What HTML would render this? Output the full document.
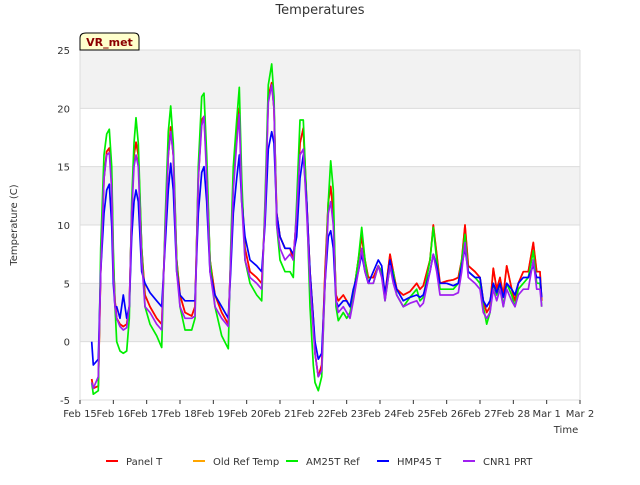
<!DOCTYPE html>
<html><head><meta charset="utf-8"><style>
body{margin:0;background:#fff;font-family:"Liberation Sans","DejaVu Sans",sans-serif}
svg text{font-family:"DejaVu Sans","Liberation Sans",sans-serif}
</style></head><body>
<svg id="chart" width="640" height="480" viewBox="0 0 640 480" xmlns="http://www.w3.org/2000/svg">
<rect width="640" height="480" fill="#fff"/>
<g id="plot"></g>
<text x="320" y="14" text-anchor="middle" font-size="13" fill="#333">Temperatures</text>
<text transform="translate(17,225) rotate(-90)" text-anchor="middle" font-size="10" fill="#333">Temperature (C)</text>
<text x="566" y="433" text-anchor="middle" font-size="10" fill="#333">Time</text>
<g>
<path d="M80,50 L80,38 Q80,33 86,33 L134,33 Q139,33 139,38 L139,50 Z" fill="#ffffcc" stroke="#000" stroke-width="1"/>
<text x="109.5" y="46" text-anchor="middle" font-size="11" font-weight="bold" fill="#8b0000">VR_met</text>
</g>
<g id="legend"></g>
</svg>
<script>
const times=[0.35,0.4,0.55,0.62,0.72,0.8,0.88,0.95,1.0,1.05,1.1,1.2,1.3,1.4,1.48,1.55,1.62,1.68,1.75,1.85,1.95,2.1,2.3,2.45,2.55,2.65,2.72,2.8,2.9,3.0,3.15,3.35,3.45,3.55,3.65,3.72,3.8,3.9,4.05,4.25,4.45,4.52,4.6,4.7,4.78,4.85,4.95,5.1,5.3,5.45,5.55,5.65,5.75,5.82,5.9,6.0,6.15,6.3,6.4,6.5,6.6,6.7,6.8,6.9,7.0,7.05,7.15,7.25,7.35,7.45,7.52,7.6,7.68,7.75,7.9,8.0,8.1,8.2,8.35,8.45,8.55,8.65,8.8,8.95,9.05,9.15,9.3,9.4,9.5,9.7,9.9,10.1,10.2,10.3,10.5,10.6,10.7,10.8,11.0,11.2,11.35,11.45,11.55,11.65,11.85,12.0,12.1,12.2,12.3,12.4,12.5,12.6,12.7,12.8,12.95,13.05,13.15,13.3,13.45,13.6,13.7,13.8,13.85];
const panelT=[-3.2,-4,-3.8,6,14,16.3,16.6,14,7,3.5,2,1.5,1.3,1.5,3,11,16,17.1,16,8,4,3,2,1.5,9,16,18.4,16,7,4,2.5,2.2,3,14,19,19.3,15,7,4,2.5,1.5,7,14,18,20,13,8,6,5.5,5,11,21,22.2,20,11,9,8,8,7,11,17,18.3,12,6,2,-1,-3,-2,6,12,13.3,11,4,3.5,4,3.5,3,4,7,9,7,5.5,5.5,6.5,6,4,7.5,6,4.5,4,4.3,5,4.5,4.8,7,10,7.5,5,5.2,5.3,5.5,7,10,6.5,6,5.5,3.5,2.5,3,6.3,4.5,5.5,4,6.5,4.5,3.5,5,6,6,8.5,6,6,3.5];
const oldRef=panelT.slice();
const am25t=[-3.5,-4.5,-4.2,8,16,17.8,18.2,15,8,3,0,-0.8,-1,-0.8,2,12,17,19.2,17,8,3,1.5,0.5,-0.5,10,18,20.2,17,7,3,1,1,2,15,21,21.3,16,7,3,0.5,-0.6,8,15,19,21.8,14,7,5,4,3.5,12,22,23.8,21,10,7,6,6,5.5,12,19,19,12,3,-2,-3.5,-4.2,-3,5,12,15.5,13,3,1.8,2.5,2,2.5,4,7,9.8,7,5,5,6.5,6,3.5,6.5,6,4,3,3.8,4.5,3.5,3.8,7,9.8,7,4.5,4.5,4.5,5,7,9.2,6,5.5,5,3,1.5,2.5,5,4,5,3,5,4,3,4.5,5,5.5,7.8,5,5,3];
const hmp45=[0,-2,-1.5,6,11,13,13.5,10,5,3,3,2,4,2,3,9,12,13,12,6,5,4.2,3.5,3,8,13,15.3,13,6,4,3.5,3.5,3.5,11,14.5,15,12,6,4,3,2,6,11,14,16,12,9,7,6.5,6,10,16.5,18,17,11,9,8,8,7.5,9,14,16,12,6,2,0,-1.5,-1,5,9,9.5,8,3.5,3,3.5,3.5,3,4.5,6,7.5,6,5,6,7,6.5,4,7,5.5,4.5,3.5,3.8,4,3.8,4,6,7.5,6.5,5,5,4.8,5,6.5,8,6,5.5,5.5,3.5,3,3.5,5,4.2,5,3.8,5,4.5,4,5,5.5,5.5,6.5,5.5,5.5,3.8];
const cnr1=[-3.5,-4,-3,6,14,16,16.2,13,6,3,2,1.3,1,1.2,3,11,15,16,15,7,3,2.5,1.5,1,9,16,18,16,6,3,2,2,2.2,14,18.5,19.3,14,6,3,2,1.3,7,13,17,19.5,12,7,5.5,5,4.5,11,20.5,22,20,10,8,7,7.5,7,11,16,16.5,11,5,1,-1,-3,-2.5,5,11,12,10,3.5,2.5,3,2.5,2,3.5,6,8,6,5,5,6.5,5.5,3.5,6.5,5,4,3,3.3,3.5,3,3.3,6,7.5,6,4,4,4,4.2,6,8.5,5.5,5,4.5,2.5,2,2.5,4.5,3.5,4.5,3,4.5,3.5,3,4,4.5,4.5,7,4.5,4.5,3];
const yTicks=[-5,0,5,10,15,20,25];
const xTickLabels=["Feb 15","Feb 16","Feb 17","Feb 18","Feb 19","Feb 20","Feb 21","Feb 22","Feb 23","Feb 24","Feb 25","Feb 26","Feb 27","Feb 28","Mar 1","Mar 2"];
const seriesNames=["Panel T","Old Ref Temp","AM25T Ref","HMP45 T","CNR1 PRT"];
const seriesColors=["#ff0000","#ffa500","#00ee00","#0000ff","#a020f0"];

const NS="http://www.w3.org/2000/svg";
const X0=80,X1=580,Y0=50,Y1=400;
const xs=d=>X0+(d/15)*(X1-X0);
const ys=v=>Y1-(v+5)/30*(Y1-Y0);
const plot=document.getElementById('plot');
function mk(t,a,p){const e=document.createElementNS(NS,t);for(const k in a)e.setAttribute(k,a[k]);(p||plot).appendChild(e);return e;}
for(let i=0;i<yTicks.length-1;i++){
  if(i%2===1){
    const r=mk('rect',{x:X0,y:ys(yTicks[i+1]),width:X1-X0,height:ys(yTicks[i])-ys(yTicks[i+1]),fill:'#f2f2f2'});
    
    
  }
}
yTicks.forEach(v=>{
  const l=mk('line',{x1:X0,x2:X1,y1:ys(v),y2:ys(v),stroke:'#dcdcdc','stroke-width':1});
  
  
  const t=mk('text',{x:X0-10,y:ys(v)+4,'text-anchor':'end','font-size':10,fill:'#333'});
  t.textContent=v;
  
  
});
mk('line',{x1:X0,x2:X0,y1:Y0,y2:Y1,stroke:'#dcdcdc'});
mk('line',{x1:X1,x2:X1,y1:Y0,y2:Y1,stroke:'#dcdcdc'});
xTickLabels.forEach((s,i)=>{
  mk('line',{x1:xs(i),x2:xs(i),y1:Y1,y2:Y1+4,stroke:'#333'});
  const t=mk('text',{x:xs(i),y:Y1+17,'text-anchor':'middle','font-size':10,fill:'#333'});
  t.textContent=s;
  
  
});
const allSeries=[panelT,oldRef,am25t,hmp45,cnr1];
const order=[1,0,2,3,4];
order.forEach(si=>{
  const vals=allSeries[si];
  const d=times.map((t,i)=>(i?'L':'M')+xs(t).toFixed(1)+','+ys(vals[i]).toFixed(1)).join(' ');
  const p=mk('path',{d:d,fill:'none',stroke:seriesColors[si],'stroke-width':1.7,'stroke-linejoin':'round'});
  
  
});
const lg=document.getElementById('legend');
const lx=[106,193,286,377,463];
seriesNames.forEach((n,i)=>{
  const g=mk('g',{},lg);
  
  
  mk('line',{x1:lx[i],x2:lx[i]+12,y1:461,y2:461,stroke:seriesColors[i],'stroke-width':2},g);
  const t=mk('text',{x:lx[i]+20,y:465,'font-size':10,fill:'#333'},g);
  t.textContent=n;
});
</script>
</body></html>
